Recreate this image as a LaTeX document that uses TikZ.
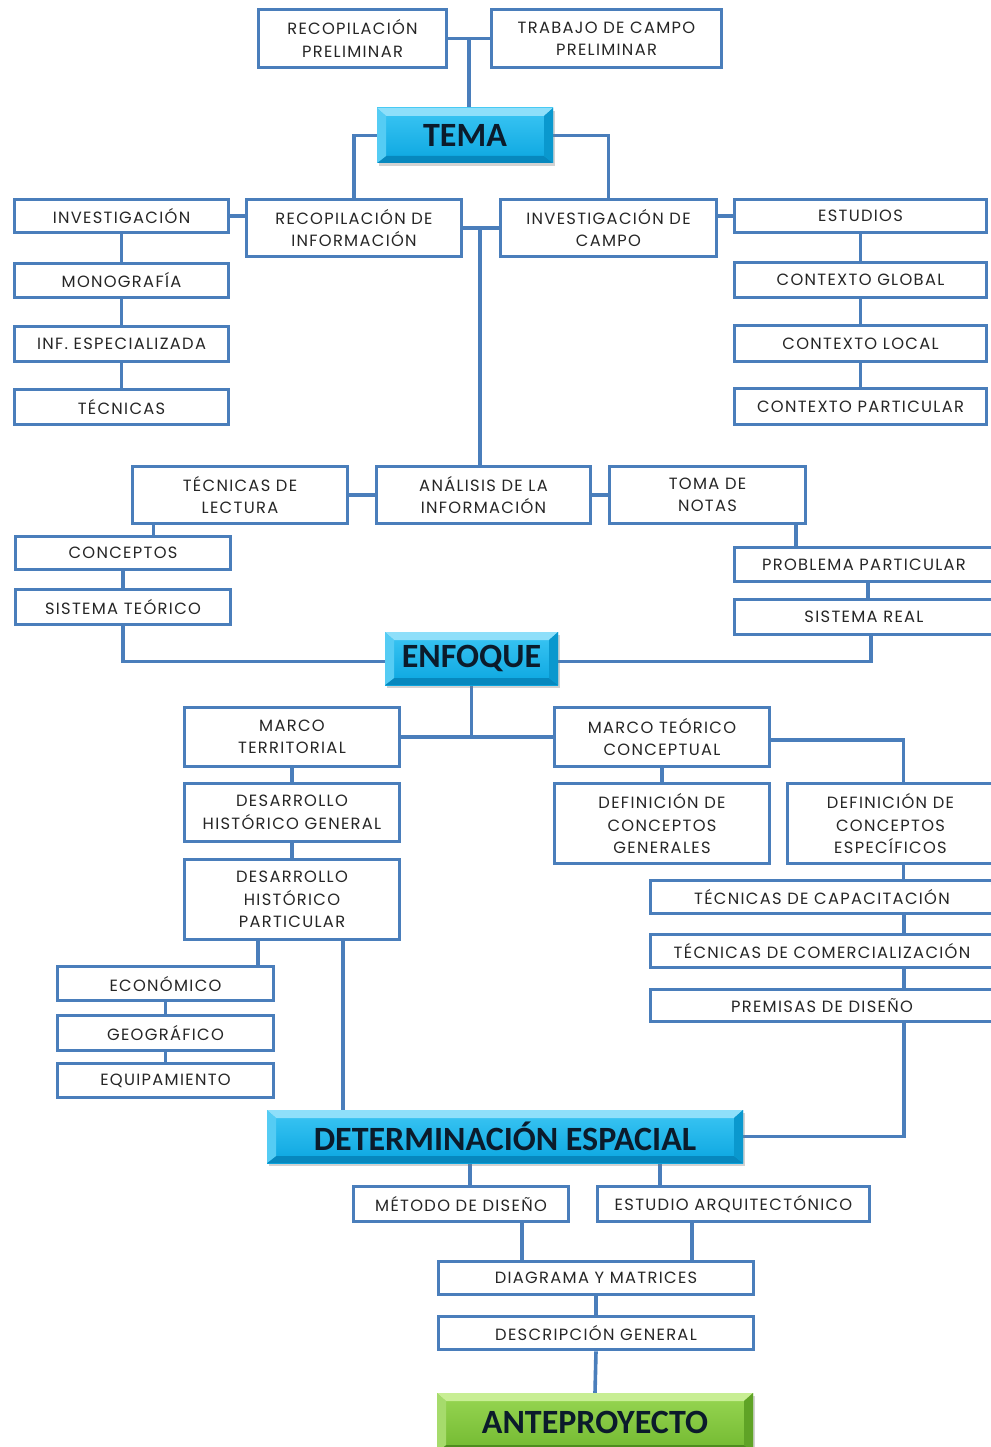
\documentclass[tikz,border=0pt]{standalone}
\usepackage{fontspec}
\newfontfamily\boxfont[LetterSpace=8]{Poppins}
\newfontfamily\headfont{Carlito}
\usetikzlibrary{shadows,backgrounds}

\definecolor{linkblue}{HTML}{4A7EBB}
\definecolor{txtgray}{HTML}{262626}
\definecolor{headtxt}{HTML}{0B1B2B}
% cyan bevelled title boxes
\definecolor{cyanF1}{HTML}{3CC6F4}
\definecolor{cyanF2}{HTML}{0BA6E0}
\definecolor{cyanT}{HTML}{8EDFFA}
\definecolor{cyanL}{HTML}{55CCF4}
\definecolor{cyanR}{HTML}{0A98CE}
\definecolor{cyanB}{HTML}{0788BE}
% green bevelled title box
\definecolor{greenF1}{HTML}{98D653}
\definecolor{greenF2}{HTML}{72B930}
\definecolor{greenT}{HTML}{C8EE94}
\definecolor{greenL}{HTML}{A6DB6C}
\definecolor{greenR}{HTML}{5FA326}
\definecolor{greenB}{HTML}{4E8C1E}

% four bevel facets inside a title box
\newcommand\bevelfaces[1]{%
  \fill[#1T] (path picture bounding box.north west) -- (path picture bounding box.north east)
    -- ([shift={(-9pt,-8pt)}]path picture bounding box.north east)
    -- ([shift={(9pt,-8pt)}]path picture bounding box.north west) -- cycle;
  \fill[#1B] (path picture bounding box.south west) -- (path picture bounding box.south east)
    -- ([shift={(-9pt,7pt)}]path picture bounding box.south east)
    -- ([shift={(9pt,7pt)}]path picture bounding box.south west) -- cycle;
  \fill[#1L] (path picture bounding box.north west) -- (path picture bounding box.south west)
    -- ([shift={(9pt,7pt)}]path picture bounding box.south west)
    -- ([shift={(9pt,-8pt)}]path picture bounding box.north west) -- cycle;
  \fill[#1R] (path picture bounding box.north east) -- (path picture bounding box.south east)
    -- ([shift={(-9pt,7pt)}]path picture bounding box.south east)
    -- ([shift={(-9pt,-8pt)}]path picture bounding box.north east) -- cycle;
}

\tikzset{
  box/.style={draw=linkblue, line width=3.6pt, fill=white, align=center,
    inner sep=0pt, text=txtgray, font=\boxfont\fontsize{16.3}{22.5}\selectfont},
  link/.style={draw=linkblue, line width=3.6pt},
  header/.style={inner sep=0pt, text=headtxt,
    font=\headfont\bfseries\fontsize{34}{34}\selectfont,
    top color=#1F1, bottom color=#1F2,
    drop shadow={opacity=0.35, shadow xshift=2pt, shadow yshift=-3pt},
    path picture={\bevelfaces{#1}}},
}

% box given by its left, top, right and bottom edges
\newcommand\bx[6]{%
  \pgfmathsetmacro\bxw{#4-#2-3}%
  \pgfmathsetmacro\bxh{#5-#3-3}%
  \node[box, minimum width=\bxw pt, minimum height=\bxh pt] (#1) at ({(#2+#4)/2},{(#3+#5)/2}) {#6};}
\newcommand\hd[7]{%
  \pgfmathsetmacro\bxw{#5-#3}%
  \pgfmathsetmacro\bxh{#6-#4}%
  \node[header=#1, minimum width=\bxw pt, minimum height=\bxh pt] (#2) at ({(#3+#5)/2},{(#4+#6)/2}) {#7};}

\begin{document}
\begin{tikzpicture}[x=1pt,y=-1pt]
\useasboundingbox (0,0) rectangle (990,1447);

% ---- titles
\hd{cyan}{tema}{377}{108}{553}{163}{TEMA}
\hd{cyan}{enfoque}{385}{632}{558}{685}{ENFOQUE}
\hd{cyan}{det}{267}{1110}{743}{1163}{DETERMINACIÓN ESPACIAL}
\hd{green}{ante}{437}{1393}{753}{1452}{ANTEPROYECTO}

% ---- top
\bx{recopre}{257}{8}{448}{69}{RECOPILACIÓN\\PRELIMINAR}
\bx{trabajo}{490}{8}{723}{69}{TRABAJO DE CAMPO\\PRELIMINAR}

% ---- information gathering
\bx{investigacion}{13}{198}{230}{234}{INVESTIGACIÓN}
\bx{recinfo}{245}{198}{463}{258}{RECOPILACIÓN DE\\INFORMACIÓN}
\bx{invcampo}{499}{198}{718}{258}{INVESTIGACIÓN DE\\CAMPO}
\bx{estudios}{733}{198}{988}{234}{ESTUDIOS}
\bx{monografia}{13}{262}{230}{299}{MONOGRAFÍA}
\bx{infesp}{13}{325}{230}{363}{INF. ESPECIALIZADA}
\bx{tecnicas}{13}{388}{230}{426}{TÉCNICAS}
\bx{cglobal}{733}{261}{988}{299}{CONTEXTO GLOBAL}
\bx{clocal}{733}{324}{988}{363}{CONTEXTO LOCAL}
\bx{cpart}{733}{387}{988}{426}{CONTEXTO PARTICULAR}

% ---- analysis
\bx{tlectura}{131}{465}{349}{525}{TÉCNICAS DE\\LECTURA}
\bx{analisis}{375}{465}{592}{525}{ANÁLISIS DE LA\\INFORMACIÓN}
\bx{toma}{608}{465}{807}{525}{TOMA DE\\NOTAS}
\bx{conceptos}{14}{535}{232}{571}{CONCEPTOS}
\bx{sisteorico}{14}{588}{232}{626}{SISTEMA TEÓRICO}
\bx{problema}{733}{546}{995}{583}{PROBLEMA PARTICULAR}
\bx{sisreal}{733}{598}{995}{636}{SISTEMA REAL}

% ---- frameworks
\bx{marcot}{183}{706}{401}{768}{MARCO\\TERRITORIAL}
\bx{dhg}{183}{782}{401}{843}{DESARROLLO\\HISTÓRICO GENERAL}
\bx{dhp}{183}{858}{401}{941}{DESARROLLO\\HISTÓRICO\\PARTICULAR}
\bx{economico}{56}{965}{275}{1002}{ECONÓMICO}
\bx{geografico}{56}{1014}{275}{1052}{GEOGRÁFICO}
\bx{equipamiento}{56}{1062}{275}{1099}{EQUIPAMIENTO}
\bx{mtc}{553}{706}{771}{768}{MARCO TEÓRICO\\CONCEPTUAL}
\bx{dcg}{553}{782}{771}{865}{DEFINICIÓN DE\\CONCEPTOS\\GENERALES}
\bx{dce}{786}{782}{995}{865}{DEFINICIÓN DE\\CONCEPTOS\\ESPECÍFICOS}
\bx{tcap}{649}{879}{995}{915}{TÉCNICAS DE CAPACITACIÓN}
\bx{tcom}{649}{933}{995}{969}{TÉCNICAS DE COMERCIALIZACIÓN}
\bx{prem}{649}{988}{995}{1023}{PREMISAS DE DISEÑO}

% ---- design
\bx{metodo}{352}{1185}{570}{1223}{MÉTODO DE DISEÑO}
\bx{estudio}{596}{1185}{871}{1223}{ESTUDIO ARQUITECTÓNICO}
\bx{diag}{437}{1260}{755}{1296}{DIAGRAMA Y MATRICES}
\bx{desc}{437}{1315}{755}{1351}{DESCRIPCIÓN GENERAL}

\coordinate (jtop) at (469,38.5);
\coordinate (jmid) at (480,228);

\begin{scope}[on background layer]
\fill[white] (0,0) rectangle (990,1447);
% top
\draw[link] (recopre.east) -- (trabajo.west);
\draw[link] (jtop) -- (jtop |- tema.north);
\draw[link] (tema.west) -| (recinfo.north);
\draw[link] (tema.east) -| (invcampo.north);
% information gathering
\draw[link] (investigacion.east) -- (investigacion.east -| recinfo.west);
\draw[link] (recinfo.east) -- (recinfo.east -| invcampo.west);
\draw[link] (jmid) -- (jmid |- analisis.north);
\draw[link] (estudios.west) -- (estudios.west -| invcampo.east);
\draw[link] (investigacion.south) -- (monografia.north);
\draw[link] (monografia.south) -- (infesp.north);
\draw[link] (infesp.south) -- (tecnicas.north);
\draw[link] (estudios.south) -- (cglobal.north);
\draw[link] (cglobal.south) -- (clocal.north);
\draw[link] (clocal.south) -- (cpart.north);
% analysis
\draw[link] (tlectura.east) -- (analisis.west);
\draw[link] (analisis.east) -- (toma.west);
\draw[link] ([xshift=-86.5pt]tlectura.south) -- ([xshift=-86.5pt]tlectura.south |- conceptos.north);
\draw[link] (conceptos.south) -- (sisteorico.north);
\draw[link] (sisteorico.south) |- ([yshift=-3pt]enfoque.west);
\draw[link] ([xshift=88.5pt]toma.south) -- ([xshift=88.5pt]toma.south |- problema.north);
\draw[link] ([xshift=4pt]problema.south) -- ([xshift=4pt]problema.south |- sisreal.north);
\draw[link] ([xshift=7pt]sisreal.south) |- ([yshift=-3pt]enfoque.east);
% frameworks
\draw[link] (enfoque.south) -- (enfoque.south |- marcot.east);
\draw[link] (marcot.east) -- (mtc.west);
\draw[link] (marcot.south) -- (dhg.north);
\draw[link] (dhg.south) -- (dhp.north);
\draw[link] ([xshift=-34pt]dhp.south) -- ([xshift=-34pt]dhp.south |- economico.north);
\draw[link] (economico.south) -- (geografico.north);
\draw[link] (geografico.south) -- (equipamiento.north);
\draw[link] ([xshift=51pt]dhp.south) -- ([xshift=51pt]dhp.south |- det.north);
\draw[link] (mtc.south) -- (dcg.north);
\draw[link] ([yshift=-3pt]mtc.east) -| ([xshift=13pt]dce.north);
\draw[link] ([xshift=13pt]dce.south) -- ([xshift=13pt]dce.south |- tcap.north);
\draw[link] ([xshift=82pt]tcap.south) -- ([xshift=82pt]tcap.south |- tcom.north);
\draw[link] ([xshift=82pt]tcom.south) -- ([xshift=82pt]tcom.south |- prem.north);
\draw[link] ([xshift=82pt]prem.south) |- (det.east);
% design
\draw[link] ([xshift=-35pt]det.south) -- ([xshift=-35pt]det.south |- metodo.north);
\draw[link] ([xshift=155pt]det.south) -- ([xshift=155pt]det.south |- estudio.north);
\draw[link] ([xshift=61pt]metodo.south) -- ([xshift=61pt]metodo.south |- diag.north);
\draw[link] ([xshift=-41.5pt]estudio.south) -- ([xshift=-41.5pt]estudio.south |- diag.north);
\draw[link] (diag.south) -- (desc.north);
\draw[link] (desc.south) -- (ante.north);
\end{scope}
\end{tikzpicture}
\end{document}
